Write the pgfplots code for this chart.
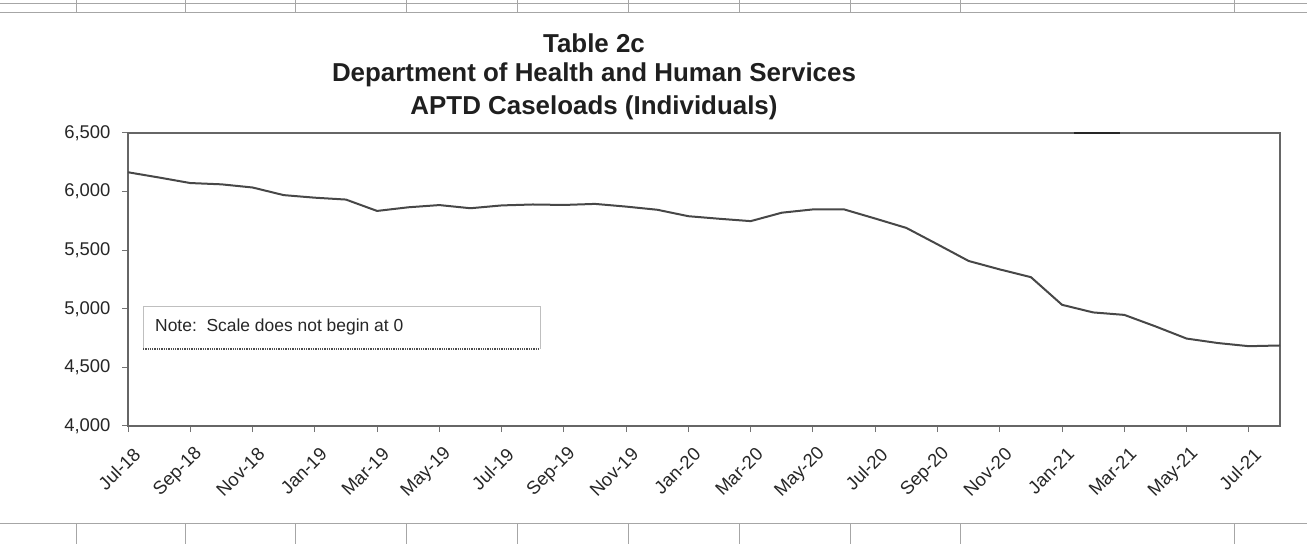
\documentclass[border=0pt]{standalone}
\usepackage{pgfplots}
\pgfplotsset{compat=1.18}
\usepackage{fontspec}
\setmainfont{Liberation Sans}
\begin{document}
\begin{tikzpicture}
\path[use as bounding box] (0bp,0bp) rectangle (1307bp,544bp);
% spreadsheet cell lines
\begin{scope}[draw=black!35, line width=1bp]
\draw (0bp,540bp) -- (1307bp,540bp);
\draw (0bp,531bp) -- (1307bp,531bp);
\foreach \x in {76,185,295,406,517,628,739,850,960,1234} \draw (\x bp,531bp) -- (\x bp,544bp);
\draw (0bp,20bp) -- (1307bp,20bp);
\foreach \x in {76,185,295,406,517,628,739,850,960,1234} \draw (\x bp,0bp) -- (\x bp,20bp);
\end{scope}
% title
\begin{scope}[every node/.style={font=\fontsize{26}{31}\selectfont\bfseries, text=black!88, inner sep=0pt, anchor=base}]
\node at (594bp,491bp) {Table 2c};
\node at (594bp,462bp) {Department of Health and Human Services};
\node at (594bp,429bp) {APTD Caseloads (Individuals)};
\end{scope}
\begin{axis}[
  at={(128bp,118bp)}, anchor=south west, scale only axis,
  width=1152bp, height=293bp,
  xmin=0, xmax=37, ymin=4000, ymax=6500,
  xtick={0,2,...,36},
  xticklabels={Jul-18,Sep-18,Nov-18,Jan-19,Mar-19,May-19,Jul-19,Sep-19,Nov-19,Jan-20,Mar-20,May-20,Jul-20,Sep-20,Nov-20,Jan-21,Mar-21,May-21,Jul-21},
  ytick={4000,4500,5000,5500,6000,6500},
  scaled y ticks=false,
  /pgf/number format/1000 sep={,},
  /pgf/number format/assume math mode=true,
  xtick pos=lower, ytick pos=left,
  tick align=outside, major tick length=6bp,
  tick style={draw=black!55, line width=1bp},
  axis line style={draw=black!60, line width=1.5bp},
  tick label style={font=\fontsize{18.5}{22}\selectfont, text=black!85},
  yticklabel style={xshift=-8bp},
  xticklabel style={xshift=9bp, yshift=-19bp, rotate=45, anchor=east, inner sep=0pt},
  clip=false,
]
\addplot[color=black!72, line width=2bp] table {
x y
0 6165
1 6120
2 6073
3 6062
4 6035
5 5970
6 5948
7 5932
8 5835
9 5866
10 5885
11 5858
12 5882
13 5890
14 5886
15 5895
16 5872
17 5845
18 5790
19 5768
20 5748
21 5820
22 5848
23 5848
24 5770
25 5690
26 5550
27 5408
28 5336
29 5270
30 5034
31 4969
32 4948
33 4850
34 4746
35 4708
36 4681
37 4687
};
\end{axis}
% small dark dash on the top border
\draw[black!85, line width=2bp] (1074bp,411bp) -- (1120bp,411bp);
% note box
\draw[draw=black!25, line width=1bp] (143bp,195bp) -- (143bp,237bp) -- (540bp,237bp) -- (540bp,195bp);
\draw[black!70, densely dotted, line width=1.3bp] (143bp,195bp) -- (540bp,195bp);
\node[anchor=base west, font=\fontsize{17.5}{21}\selectfont, text=black!85, inner sep=0pt] at (155bp,212bp) {Note:\ \ Scale does not begin at 0};
\end{tikzpicture}
\end{document}
